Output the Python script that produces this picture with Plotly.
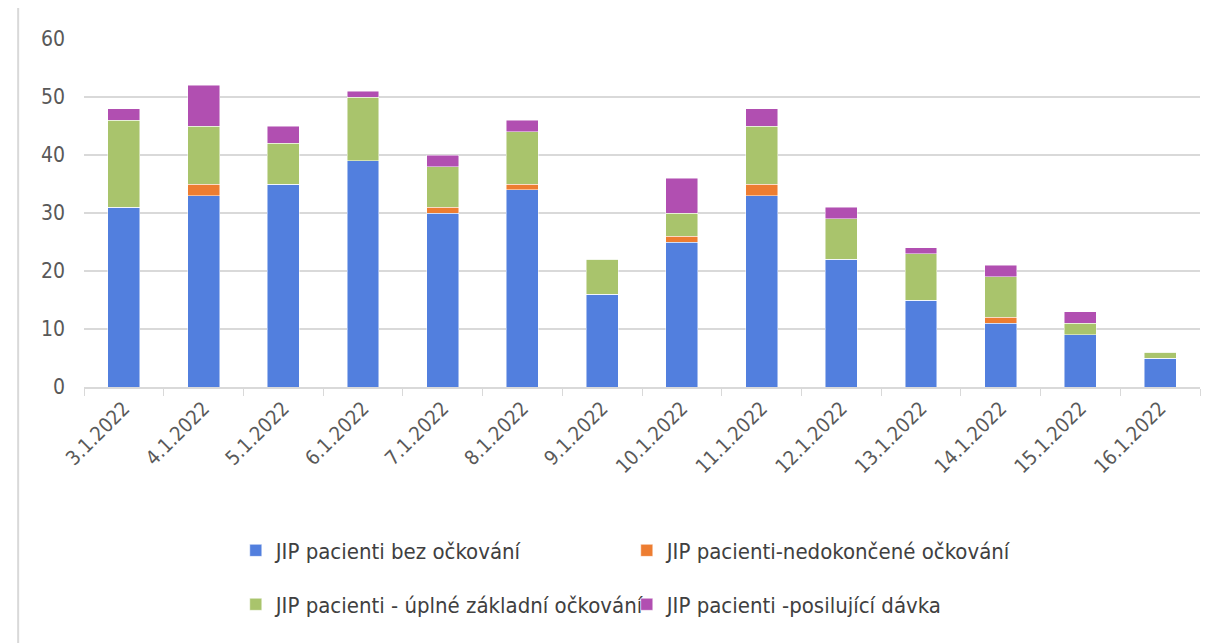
import plotly.graph_objects as go

dates = ['3.1.2022', '4.1.2022', '5.1.2022', '6.1.2022', '7.1.2022', '8.1.2022', '9.1.2022',
         '10.1.2022', '11.1.2022', '12.1.2022', '13.1.2022', '14.1.2022', '15.1.2022', '16.1.2022']
bez_ockovani = [31, 33, 35, 39, 30, 34, 16, 25, 33, 22, 15, 11, 9, 5]
nedokoncene = [0, 2, 0, 0, 1, 1, 0, 1, 2, 0, 0, 1, 0, 0]
uplne_zakladni = [15, 10, 7, 11, 7, 9, 6, 4, 10, 7, 8, 7, 2, 1]
posilujici = [2, 7, 3, 1, 2, 2, 0, 6, 3, 2, 1, 2, 2, 0]

names = ['JIP pacienti bez očkování', 'JIP pacienti-nedokončené očkování',
         'JIP pacienti - úplné základní očkování', 'JIP pacienti -posilující dávka']
colors = ['#527FDE', '#ED7D31', '#A9C46C', '#B14FB1']
legends = ['legend', 'legend', 'legend2', 'legend2']

fig = go.Figure()
for name, vals, col, lg in zip(names, [bez_ockovani, nedokoncene, uplne_zakladni, posilujici], colors, legends):
    fig.add_trace(go.Bar(
        x=dates,
        y=vals,
        name=name,
        legend=lg,
        marker=dict(color=col, line=dict(color='rgba(255,255,255,0.6)', width=0.8))
    ))

font = "DejaVu Sans Condensed, Liberation Sans Narrow, sans-serif"

legend_style = dict(
    orientation='h',
    x=0.136,
    xanchor='left',
    yanchor='middle',
    entrywidth=346,
    traceorder='normal',
    font=dict(family=font, size=22, color='#404040'),
)

fig.update_layout(
    barmode='stack',
    bargap=0.6,
    width=1221,
    height=635,
    margin=dict(l=76, r=29, t=31, b=256),
    plot_bgcolor='white',
    paper_bgcolor='white',
    font=dict(family=font, color='#595959', size=19),
    xaxis=dict(
        tickangle=-45,
        ticks='outside',
        ticklen=7,
        tickcolor='#d9d9d9',
        showline=True,
        linecolor='#d9d9d9',
        linewidth=1.5,
        tickson='boundaries',
        tickfont=dict(size=20),
    ),
    yaxis=dict(
        range=[0, 60],
        dtick=10,
        gridcolor='#d9d9d9',
        gridwidth=1.5,
        zeroline=False,
        tickfont=dict(size=21),
        ticklabelstandoff=18,
    ),
    legend=dict(legend_style, y=-0.47),
    legend2=dict(legend_style, y=-0.625),
    showlegend=True,
    shapes=[dict(
        type='rect', xref='paper', yref='paper',
        x0=-0.059, x1=1.0234, y0=-0.75, y1=1.098,
        line=dict(color='#d9d9d9', width=2), fillcolor='rgba(0,0,0,0)', layer='below'
    )],
)

fig.write_html("out.html")
